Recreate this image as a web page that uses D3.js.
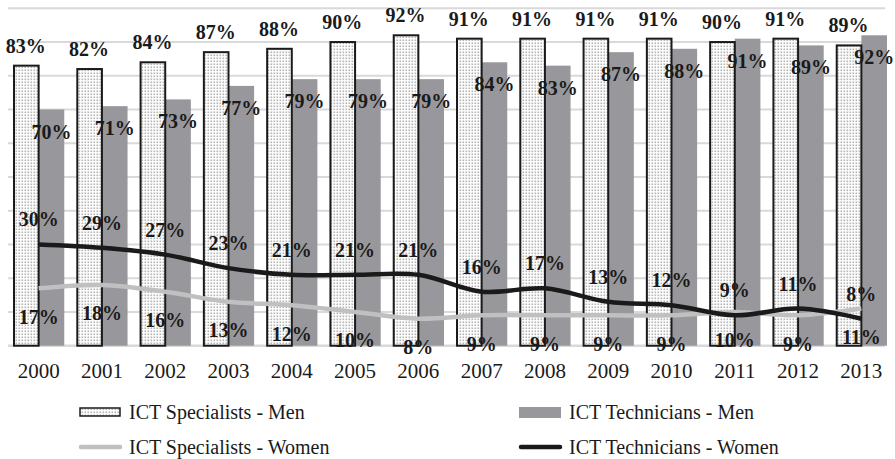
<!DOCTYPE html>
<html>
<head>
<meta charset="utf-8">
<script src="https://cdn.jsdelivr.net/npm/d3@7"></script>
<style>
  html, body { margin: 0; padding: 0; background: #fff; }
  svg text { font-family: "Times New Roman", Times, Tinos, "Liberation Serif", "Noto Serif", "DejaVu Serif", FreeSerif, serif; }
</style>
</head>
<body>
<div id="chart"></div>
<script>
// données
const years = ['2000', '2001', '2002', '2003', '2004', '2005', '2006', '2007', '2008', '2009', '2010', '2011', '2012', '2013'];
const specialistsMen = [83, 82, 84, 87, 88, 90, 92, 91, 91, 91, 91, 90, 91, 89];
const techniciansMen = [70, 71, 73, 77, 79, 79, 79, 84, 83, 87, 88, 91, 89, 92];
const specialistsWomen = [17, 18, 16, 13, 12, 10, 8, 9, 9, 9, 9, 10, 9, 11];
const techniciansWomen = [30, 29, 27, 23, 21, 21, 21, 16, 17, 13, 12, 9, 11, 8];
const yTicks = [0, 10, 20, 30, 40, 50, 60, 70, 80, 90, 100];

function drawChart() {
    const width = 895, height = 459;

    const svg = d3.select('#chart')
        .append('svg')
        .attr('width', width)
        .attr('height', height);

    // motif pointillé pour les barres des spécialistes
    const pattern = svg.append('defs')
        .append('pattern')
        .attr('id', 'dots')
        .attr('patternUnits', 'userSpaceOnUse')
        .attr('width', 3)
        .attr('height', 3);
    pattern.append('rect').attr('width', 3).attr('height', 3).attr('fill', '#fff');
    pattern.append('rect').attr('x', 0.5).attr('y', 0.5).attr('width', 1.6).attr('height', 1.6).attr('fill', '#b4b4b4');

    const x = d3.scaleBand()
        .domain(years)
        .range([7, 893])
        .paddingInner(0.19)
        .paddingOuter(0.095);

    const xSub = d3.scaleBand()
        .domain(['spec', 'tech'])
        .range([0, x.bandwidth()]);

    const y = d3.scaleLinear()
        .domain([0, 100])
        .range([345.7, 8.3]);

    // grille horizontale
    svg.append('g')
        .selectAll('line')
        .data(yTicks)
        .enter()
        .append('line')
        .attr('x1', 8)
        .attr('x2', 885)
        .attr('y1', d => y(d))
        .attr('y2', d => y(d))
        .attr('stroke', '#d9d9d9')
        .attr('stroke-width', d => d === 0 ? 2.5 : 2);

    const cx = d => x(d) + x.bandwidth() / 2;

    // barres
    const bars = svg.append('g');
    bars.selectAll('rect.tech')
        .data(years)
        .enter()
        .append('rect')
        .attr('class', 'tech')
        .attr('x', d => x(d) + xSub('tech'))
        .attr('width', xSub.bandwidth())
        .attr('y', (d, i) => y(techniciansMen[i]))
        .attr('height', (d, i) => y(0) - y(techniciansMen[i]))
        .attr('fill', '#98989c');

    bars.selectAll('rect.spec')
        .data(years)
        .enter()
        .append('rect')
        .attr('class', 'spec')
        .attr('x', d => x(d) + xSub('spec') + 1)
        .attr('width', xSub.bandwidth() - 1)
        .attr('y', (d, i) => y(specialistsMen[i]))
        .attr('height', (d, i) => y(0) - y(specialistsMen[i]))
        .attr('fill', 'url(#dots)')
        .attr('stroke', '#1a1a1a')
        .attr('stroke-width', 2);

    // courbes des femmes
    const line = d3.line()
        .x((d, i) => cx(years[i]))
        .y(d => y(d))
        .curve(d3.curveCatmullRom.alpha(0.5));

    svg.append('path')
        .datum(specialistsWomen)
        .attr('d', line)
        .attr('fill', 'none')
        .attr('stroke', '#c0c0c0')
        .attr('stroke-width', 4.5);

    svg.append('path')
        .datum(techniciansWomen)
        .attr('d', line)
        .attr('fill', 'none')
        .attr('stroke', '#1a1a1a')
        .attr('stroke-width', 4.5);

    // étiquettes de valeurs
    const labels = svg.append('g')
        .attr('font-size', 20)
        .attr('font-weight', 'bold')
        .attr('fill', '#1a1a1a')
        .attr('text-anchor', 'middle');

    const addLabels = (values, xf, dy) => {
        labels.append('g')
            .selectAll('text')
            .data(values)
            .enter()
            .append('text')
            .attr('x', (d, i) => xf(years[i]))
            .attr('y', d => y(d) + dy)
            .text(d => d + '%');
    };
    addLabels(specialistsMen, d => x(d) + xSub('spec') + xSub.bandwidth() / 2, -13);
    addLabels(techniciansMen, d => x(d) + xSub('tech') + xSub.bandwidth() / 2, 29);
    addLabels(techniciansWomen, cx, -18);
    addLabels(specialistsWomen, cx, 35.5);

    // axe des années
    svg.append('g')
        .selectAll('text')
        .data(years)
        .enter()
        .append('text')
        .attr('x', d => cx(d))
        .attr('y', 378)
        .attr('text-anchor', 'middle')
        .attr('font-size', 21)
        .attr('fill', '#1a1a1a')
        .text(d => d);

    // légende
    const legend = svg.append('g').attr('font-size', 20).attr('fill', '#1a1a1a');
    const items = [
        { name: 'ICT Specialists - Men', x: 79, y: 412, type: 'spec' },
        { name: 'ICT Technicians - Men', x: 519, y: 412, type: 'tech' },
        { name: 'ICT Specialists - Women', x: 79, y: 447, type: 'lineGray' },
        { name: 'ICT Technicians - Women', x: 519, y: 447, type: 'lineBlack' }
    ];
    items.forEach(it => {
        const g = legend.append('g');
        if (it.type === 'spec') {
            g.append('rect').attr('x', it.x + 1).attr('y', it.y - 4).attr('width', 40).attr('height', 8)
                .attr('fill', 'url(#dots)').attr('stroke', '#1a1a1a').attr('stroke-width', 1.5);
        } else if (it.type === 'tech') {
            g.append('rect').attr('x', it.x).attr('y', it.y - 5).attr('width', 42).attr('height', 11)
                .attr('fill', '#98989c');
        } else {
            g.append('line').attr('x1', it.x + 2).attr('x2', it.x + 41).attr('y1', it.y).attr('y2', it.y)
                .attr('stroke', it.type === 'lineGray' ? '#c0c0c0' : '#1a1a1a')
                .attr('stroke-width', 4.5).attr('stroke-linecap', 'round');
        }
        g.append('text')
            .attr('x', it.x + 50)
            .attr('y', it.y + 7)
            .text(it.name);
    });
}

drawChart();
</script>
</body>
</html>
